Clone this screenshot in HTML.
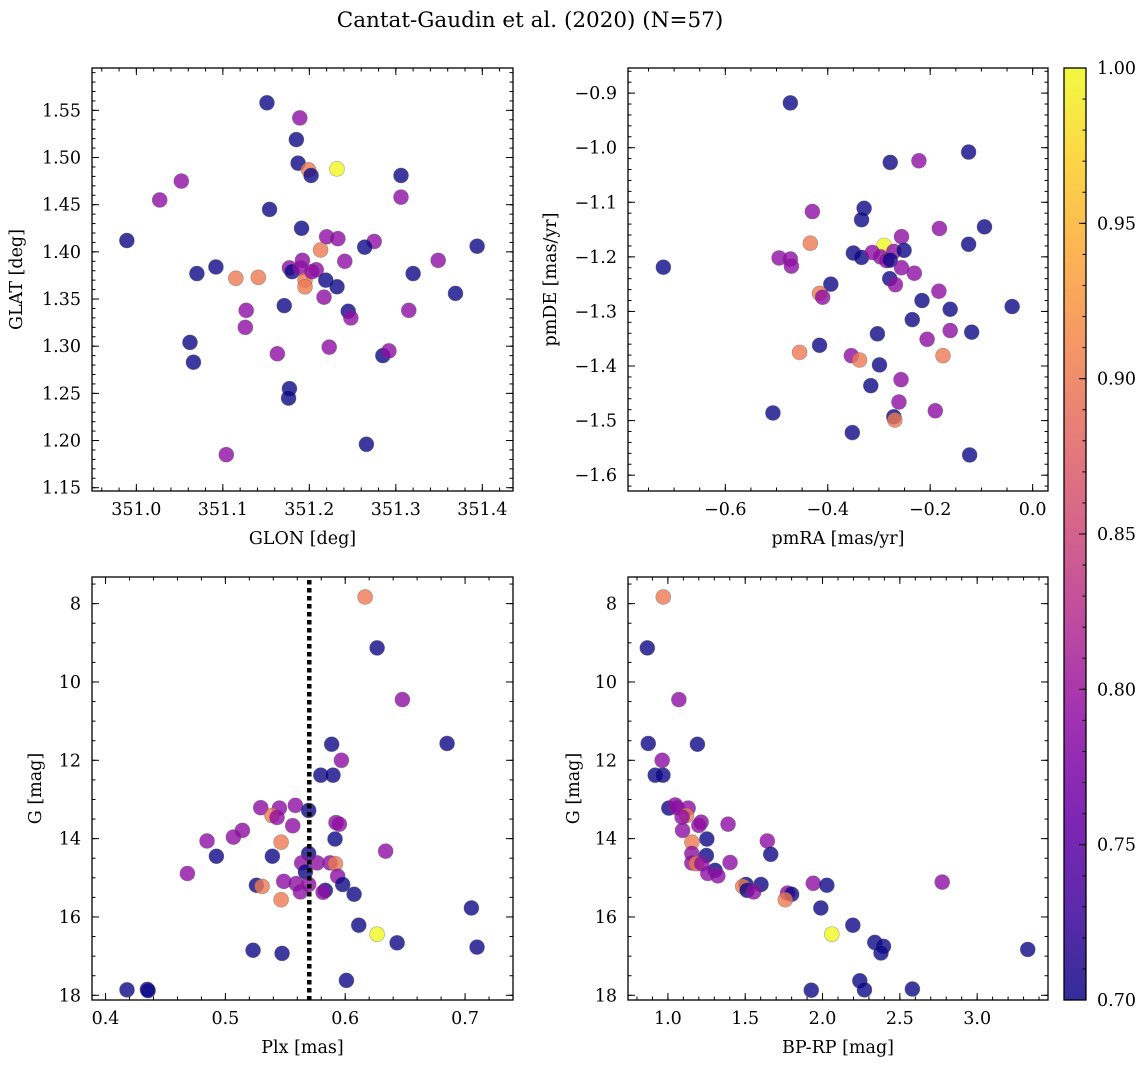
<!DOCTYPE html>
<html><head><meta charset="utf-8"><style>
html,body{margin:0;padding:0;background:#fff;}
svg{display:block;font-family:"DejaVu Serif","Liberation Serif",serif;}
</style></head><body>
<svg id="fig" width="1148" height="1067" viewBox="0 0 1148 1067" xmlns="http://www.w3.org/2000/svg">
<defs>
<linearGradient id="plasmaGrad" x1="0" y1="1" x2="0" y2="0">
<stop offset="0" stop-color="#0d0887"/><stop offset="0.1" stop-color="#41049d"/><stop offset="0.2" stop-color="#6a00a8"/><stop offset="0.3" stop-color="#8f0da4"/><stop offset="0.4" stop-color="#b12a90"/><stop offset="0.5" stop-color="#cc4778"/><stop offset="0.6" stop-color="#e16462"/><stop offset="0.7" stop-color="#f2844b"/><stop offset="0.8" stop-color="#fca636"/><stop offset="0.9" stop-color="#fcce25"/><stop offset="1" stop-color="#f0f921"/>
</linearGradient>
</defs>
<text x="530" y="27" text-anchor="middle" font-size="21.5">Cantat-Gaudin et al. (2020) (N=57)</text>
<g id="root"></g>
</svg>
<script>
// ---- Data ----
const glon = [351.151,351.189,351.185,351.187,351.199,351.202,351.232,351.306,351.306,351.052,351.027,351.154,351.191,350.989,351.220,351.233,351.275,351.264,351.394,351.213,351.241,351.349,351.092,351.070,351.115,351.141,351.177,351.180,351.192,351.190,351.208,351.195,351.195,351.219,351.232,351.320,351.369,351.217,351.171,351.127,351.245,351.248,351.315,351.126,351.062,351.066,351.163,351.223,351.285,351.292,351.177,351.176,351.266,351.104,351.203];
const glat = [1.558,1.542,1.519,1.494,1.487,1.481,1.488,1.481,1.458,1.475,1.455,1.445,1.425,1.412,1.416,1.414,1.411,1.405,1.406,1.402,1.390,1.391,1.384,1.377,1.372,1.373,1.383,1.379,1.391,1.383,1.381,1.370,1.363,1.370,1.363,1.377,1.356,1.352,1.343,1.338,1.337,1.330,1.338,1.320,1.304,1.283,1.292,1.299,1.290,1.295,1.255,1.245,1.196,1.185,1.379];
const probPos = [0.70,0.79,0.70,0.70,0.90,0.70,1.00,0.70,0.79,0.79,0.79,0.70,0.70,0.70,0.79,0.79,0.79,0.70,0.70,0.90,0.79,0.79,0.70,0.70,0.90,0.90,0.79,0.70,0.79,0.79,0.79,0.90,0.90,0.70,0.70,0.70,0.70,0.79,0.70,0.79,0.70,0.79,0.79,0.79,0.70,0.70,0.79,0.79,0.70,0.79,0.70,0.70,0.70,0.79,0.79];
const pmra = [-0.473,-0.125,-0.278,-0.222,-0.329,-0.334,-0.430,-0.182,-0.094,-0.125,-0.434,-0.290,-0.256,-0.350,-0.334,-0.313,-0.297,-0.271,-0.251,-0.285,-0.278,-0.495,-0.473,-0.471,-0.721,-0.256,-0.231,-0.279,-0.268,-0.394,-0.416,-0.410,-0.183,-0.216,-0.161,-0.040,-0.235,-0.161,-0.119,-0.303,-0.206,-0.416,-0.455,-0.354,-0.338,-0.175,-0.299,-0.316,-0.257,-0.507,-0.261,-0.190,-0.271,-0.269,-0.352,-0.123];
const pmde = [-0.918,-1.008,-1.027,-1.024,-1.111,-1.132,-1.117,-1.148,-1.145,-1.177,-1.175,-1.179,-1.163,-1.193,-1.201,-1.192,-1.200,-1.190,-1.188,-1.207,-1.206,-1.202,-1.204,-1.217,-1.219,-1.220,-1.230,-1.240,-1.251,-1.250,-1.267,-1.274,-1.263,-1.280,-1.296,-1.291,-1.315,-1.335,-1.338,-1.341,-1.351,-1.362,-1.375,-1.381,-1.389,-1.381,-1.398,-1.436,-1.425,-1.486,-1.466,-1.482,-1.493,-1.499,-1.522,-1.563];
const probPm = [0.70,0.70,0.70,0.79,0.70,0.70,0.79,0.79,0.70,0.70,0.90,1.00,0.79,0.70,0.70,0.79,0.79,0.79,0.70,0.79,0.70,0.79,0.79,0.79,0.70,0.79,0.79,0.70,0.79,0.70,0.90,0.79,0.79,0.70,0.70,0.70,0.70,0.79,0.70,0.70,0.79,0.70,0.90,0.79,0.90,0.90,0.70,0.70,0.79,0.70,0.79,0.79,0.70,0.90,0.70,0.70];
const plx = [0.6166,0.6266,0.6477,0.685,0.5887,0.5968,0.5796,0.5898,0.5295,0.5451,0.5584,0.5695,0.5389,0.5431,0.5562,0.5923,0.5951,0.5142,0.5067,0.4847,0.5465,0.5915,0.6337,0.4925,0.5392,0.5695,0.5637,0.5765,0.5873,0.5918,0.5668,0.5937,0.4683,0.5487,0.5259,0.5306,0.5590,0.5626,0.5695,0.5834,0.5815,0.5979,0.6074,0.5465,0.7053,0.6113,0.6266,0.6433,0.710,0.5231,0.5473,0.601,0.4179,0.4349,0.4355];
const gPlx = [7.83,9.13,10.45,11.57,11.59,12.0,12.38,12.38,13.21,13.22,13.15,13.28,13.41,13.46,13.67,13.59,13.63,13.79,13.96,14.06,14.09,14.01,14.32,14.45,14.45,14.38,14.62,14.62,14.62,14.64,14.85,14.96,14.89,15.09,15.19,15.22,15.15,15.36,15.17,15.32,15.37,15.17,15.42,15.56,15.77,16.21,16.44,16.66,16.77,16.85,16.93,17.62,17.86,17.85,17.88];
const probPlx = [0.90,0.70,0.79,0.70,0.70,0.79,0.70,0.70,0.79,0.79,0.79,0.70,0.90,0.79,0.79,0.79,0.79,0.79,0.79,0.79,0.90,0.70,0.79,0.70,0.70,0.70,0.79,0.79,0.79,0.90,0.70,0.79,0.79,0.79,0.70,0.90,0.79,0.79,0.79,0.70,0.79,0.70,0.70,0.90,0.70,0.70,1.00,0.70,0.70,0.70,0.70,0.70,0.70,0.70,0.70];
const plxCut = 0.57;
const bprp = [0.970,0.867,1.071,0.873,1.191,0.963,0.918,0.968,1.006,1.047,1.060,1.131,1.120,1.092,1.215,1.200,1.389,1.095,1.252,1.155,1.643,1.249,1.665,1.155,1.155,1.183,1.219,1.402,1.305,1.258,1.323,1.505,1.602,1.484,1.512,1.555,1.940,2.028,2.774,1.774,1.800,1.759,1.989,2.196,2.060,2.338,2.394,2.378,3.327,2.241,2.271,1.927,2.581];
const gCmd = [7.83,9.13,10.45,11.57,11.59,12.0,12.38,12.38,13.22,13.14,13.21,13.22,13.41,13.45,13.58,13.66,13.63,13.79,14.01,14.09,14.06,14.43,14.40,14.38,14.62,14.64,14.64,14.61,14.81,14.89,14.95,15.17,15.17,15.22,15.32,15.36,15.14,15.19,15.11,15.39,15.42,15.56,15.77,16.21,16.44,16.65,16.75,16.92,16.83,17.63,17.86,17.87,17.84];
const probCmd = [0.90,0.70,0.79,0.70,0.70,0.79,0.70,0.70,0.70,0.79,0.79,0.79,0.90,0.79,0.79,0.79,0.79,0.79,0.70,0.90,0.79,0.70,0.70,0.79,0.79,0.90,0.79,0.79,0.70,0.79,0.79,0.70,0.70,0.90,0.70,0.79,0.79,0.70,0.79,0.79,0.70,0.90,0.70,0.70,1.00,0.70,0.70,0.70,0.70,0.70,0.70,0.70,0.70];
const ticksGlon = [351.0,351.1,351.2,351.3,351.4];
const ticksGlat = [1.15,1.20,1.25,1.30,1.35,1.40,1.45,1.50,1.55];
const ticksPmra = [-0.6,-0.4,-0.2,0.0];
const ticksPmde = [-1.6,-1.5,-1.4,-1.3,-1.2,-1.1,-1.0,-0.9];
const ticksPlx = [0.4,0.5,0.6,0.7];
const ticksG = [8,10,12,14,16,18];
const ticksBprp = [1.0,1.5,2.0,2.5,3.0];
const ticksCbar = [0.70,0.75,0.80,0.85,0.90,0.95,1.00];

const NS = "http://www.w3.org/2000/svg";
const root = document.getElementById('root');
function mk(tag, attrs, parent){const e=document.createElementNS(NS,tag);for(const k in attrs)e.setAttribute(k,attrs[k]);(parent||root).appendChild(e);return e;}
const stops=[[13,8,135],[65,4,157],[106,0,168],[143,13,164],[177,42,144],[204,71,120],[225,100,98],[242,132,75],[252,166,54],[252,206,37],[240,249,33]];
function plasma(v){const t=Math.max(0,Math.min(1,(v-0.7)/0.3))*10;const i=Math.min(9,Math.floor(t));const f=t-i;const a=stops[i],b=stops[i+1];return 'rgb('+a.map((c,k)=>Math.round(c+(b[k]-c)*f)).join(',')+')';}
function fmt(v,d){return (v<0?'\u2212':'')+Math.abs(v).toFixed(d);}

function panel(name,box,dom,xt,xd,xminor,yt,yd,yminor,xlabel,ylabel,ylabX){
  const g=mk('g',{});
  
  
  const sx=v=>box.x0+(v-dom.x0)/(dom.x1-dom.x0)*(box.x1-box.x0);
  const sy=v=>box.y1-(v-dom.y0)/(dom.y1-dom.y0)*(box.y1-box.y0);
  const ax={g,sx,sy};
  const tg=mk('g',{stroke:'#000','stroke-width':1},g);
  
  
  const lo=Math.min(dom.x0,dom.x1),hi=Math.max(dom.x0,dom.x1);
  for(let k=Math.ceil(lo/xminor-1e-6);k*xminor<=hi+1e-9;k++){const X=sx(k*xminor);if(X<box.x0||X>box.x1)continue;
    mk('line',{x1:X,x2:X,y1:box.y1,y2:box.y1-3.5},tg);mk('line',{x1:X,x2:X,y1:box.y0,y2:box.y0+3.5},tg);}
  const ylo=Math.min(dom.y0,dom.y1),yhi=Math.max(dom.y0,dom.y1);
  for(let k=Math.ceil(ylo/yminor-1e-6);k*yminor<=yhi+1e-9;k++){const Y=sy(k*yminor);if(Y<box.y0||Y>box.y1)continue;
    mk('line',{x1:box.x0,x2:box.x0+3.5,y1:Y,y2:Y},tg);mk('line',{x1:box.x1,x2:box.x1-3.5,y1:Y,y2:Y},tg);}
  xt.forEach(v=>{const X=sx(v);mk('line',{x1:X,x2:X,y1:box.y1,y2:box.y1-7},tg);mk('line',{x1:X,x2:X,y1:box.y0,y2:box.y0+7},tg);
    const t=mk('text',{x:X,y:box.y1+24,'text-anchor':'middle','font-size':17.5},g);t.textContent=fmt(v,xd);
    
    });
  yt.forEach(v=>{const Y=sy(v);mk('line',{x1:box.x0,x2:box.x0+7,y1:Y,y2:Y},tg);mk('line',{x1:box.x1,x2:box.x1-7,y1:Y,y2:Y},tg);
    const t=mk('text',{x:box.x0-11,y:Y+6,'text-anchor':'end','font-size':17.5},g);t.textContent=fmt(v,yd);
    
    });
  const fr=mk('rect',{x:box.x0,y:box.y0,width:box.x1-box.x0,height:box.y1-box.y0,fill:'none',stroke:'#000','stroke-width':1.3},g);
  
  
  const xl=mk('text',{x:(box.x0+box.x1)/2,y:box.y1+53,'text-anchor':'middle','font-size':17.5},g);xl.textContent=xlabel;
  
  
  const cy=(box.y0+box.y1)/2;
  const yl=mk('text',{x:ylabX,y:cy,'text-anchor':'middle','font-size':17.5,transform:'rotate(-90 '+ylabX+' '+cy+')'},g);yl.textContent=ylabel;
  
  
  return ax;
}
function scatter(ax,xs,ys,ps,name){
  const pg=mk('g',{},ax.g);
  
  
  xs.forEach((v,i)=>{const c=mk('circle',{cx:ax.sx(v),cy:ax.sy(ys[i]),r:7.5,fill:plasma(ps[i]),'fill-opacity':0.8,stroke:'rgba(90,90,90,0.5)','stroke-width':0.6},pg);
    
    });
}
const a1=panel('panel-position',{x0:92,x1:513,y0:68,y1:491},{x0:350.9487,x1:351.4355,y0:1.1465,y1:1.5949},ticksGlon,1,0.02,ticksGlat,2,0.01,'GLON [deg]','GLAT [deg]',22);
scatter(a1,glon,glat,probPos,'position-scatter');
const a2=panel('panel-proper-motion',{x0:628,x1:1048,y0:68,y1:491},{x0:-0.790,x1:0.030,y0:-1.629,y1:-0.854},ticksPmra,1,0.05,ticksPmde,1,0.02,'pmRA [mas/yr]','pmDE [mas/yr]',556);
scatter(a2,pmra,pmde,probPm,'proper-motion-scatter');
const a3=panel('panel-parallax',{x0:92,x1:513,y0:577,y1:1000},{x0:0.3887,x1:0.740,y0:18.12,y1:7.32},ticksPlx,1,0.02,ticksG,0,0.5,'Plx [mas]','G [mag]',41);
scatter(a3,plx,gPlx,probPlx,'parallax-scatter');
const cut=mk('line',{x1:a3.sx(plxCut),x2:a3.sx(plxCut),y1:580,y2:1000,stroke:'#000','stroke-width':4.5,'stroke-dasharray':'4.5 3.5'},a3.g);


const a4=panel('panel-cmd',{x0:628,x1:1048,y0:577,y1:1000},{x0:0.742,x1:3.458,y0:18.12,y1:7.32},ticksBprp,1,0.1,ticksG,0,0.5,'BP-RP [mag]','G [mag]',579);
scatter(a4,bprp,gCmd,probCmd,'cmd-scatter');
const cb=mk('g',{});


const cbY=v=>1000-(v-0.7)/0.3*932;
mk('rect',{x:1064,y:68,width:22,height:932,fill:'url(#plasmaGrad)','fill-opacity':0.85},cb);
for(let k=70;k<=100;k++){const Y=cbY(k/100);mk('line',{x1:1086,x2:1082.5,y1:Y,y2:Y,stroke:'#000','stroke-width':1},cb);}
ticksCbar.forEach(v=>{const Y=cbY(v);mk('line',{x1:1086,x2:1079,y1:Y,y2:Y,stroke:'#000','stroke-width':1},cb);
  const t=mk('text',{x:1097,y:Y+6,'font-size':17.5},cb);t.textContent=v.toFixed(2);
  
  });
mk('rect',{x:1064,y:68,width:22,height:932,fill:'none',stroke:'#000','stroke-width':1.3},cb);
</script>
</body></html>
